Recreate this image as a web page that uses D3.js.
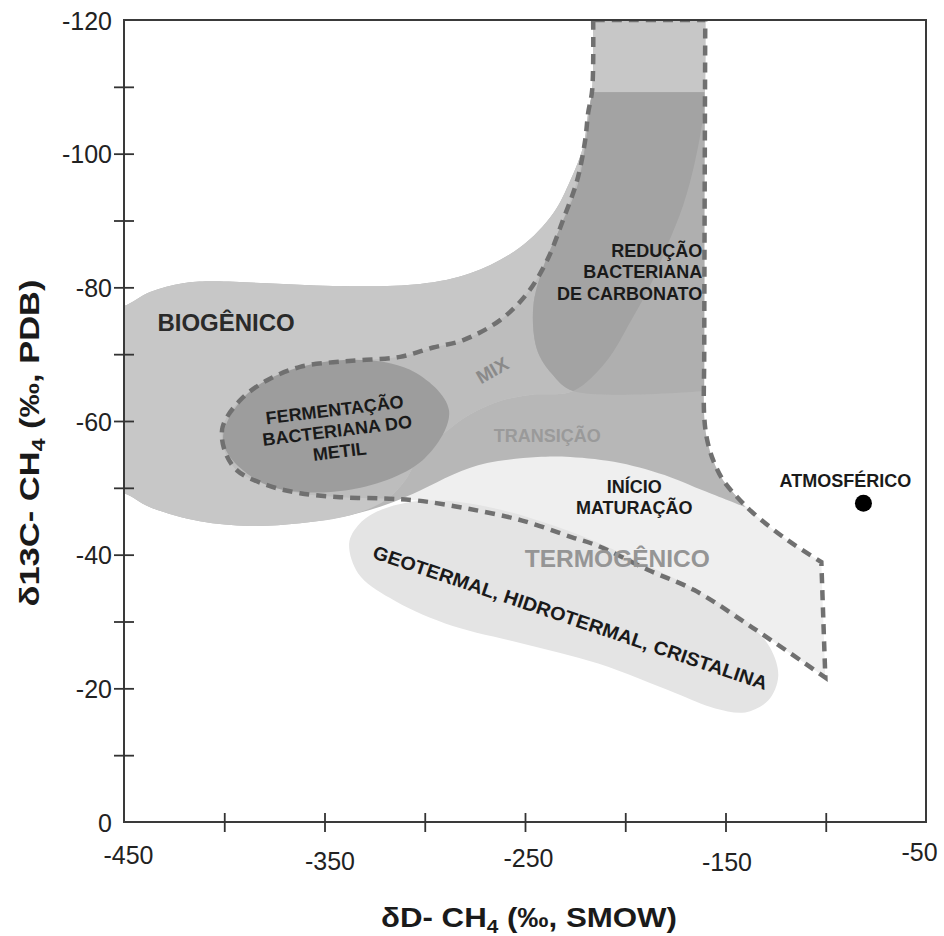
<!DOCTYPE html>
<html><head><meta charset="utf-8">
<script src="https://cdn.jsdelivr.net/npm/d3@7"></script>
<style>body{margin:0;background:#fff}</style>
</head><body><svg id="c" width="944" height="936"></svg>
<script>
// ---------------- DATA (δD, δ13C in ‰) ----------------
const xTickValues = [-450,-400,-350,-300,-250,-200,-150,-100,-50];
const xLabelValues = [-450,-350,-250,-150,-50];
const yTickValues = [0,-10,-20,-30,-40,-50,-60,-70,-80,-90,-100,-110,-120];
const yLabelValues = [0,-20,-40,-60,-80,-100,-120];

// Biogenic field: upper edge (left axis -> column)
const bioTop = [[-450,-77.2],[-437.0,-79.3],[-420.6,-80.6],[-407.1,-80.9],[-378.6,-80.6],[-345.7,-80.2],[-302.3,-80.5],[-277.3,-82.1],[-252.4,-86.0],[-235.9,-91.1],[-227.4,-96.0],[-221.0,-101.0],[-218.5,-106.1],[-216.5,-109.5],[-216.0,-122]];
// Biogenic field: right/lower edge through the carbonate-reduction column
const bioRight = [[-160.1,-122],[-160.6,-107.3],[-165.1,-99.0],[-171.1,-92.3],[-179.0,-86.3],[-187.5,-80.3],[-197.5,-74.8],[-209.0,-69.1],[-226.0,-64.5],[-247.4,-63.9],[-262.4,-63.0],[-277.3,-61.0],[-289.8,-58.3],[-302.3,-54.9],[-309.8,-51.1],[-319.8,-48.1]];
// Biogenic field: lower edge (right -> left axis)
const bioBottom = [[-337.2,-45.9],[-362.2,-44.7],[-387.1,-44.3],[-412.1,-45.0],[-437.0,-47.1],[-450,-49.2]];
// Right edge of the grey (transition) area, along the dashed boundary
const transRight = [[-160.1,-122],[-160.6,-70.6],[-160.6,-60.6],[-159.1,-57.1],[-156.1,-54.1],[-151.1,-51.1],[-144.1,-48.6],[-140.1,-47.1]];
// Upper edge of the "início maturação" field (right -> left)
const inicioTop = [[-161.1,-49.6],[-177.5,-51.6],[-202.5,-53.7],[-227.4,-54.6],[-243.9,-54.6],[-268.9,-53.7],[-285.8,-52.0],[-302.3,-49.6],[-317.3,-47.7]];
// Redução bacteriana de carbonato
const reducao = [[-216.5,-109.2],[-160.6,-109.2],[-160.6,-64.5],[-226.0,-64.5],[-236.4,-67.0],[-243.9,-70.6],[-245.9,-77.0],[-240.9,-83.0],[-232.4,-89.0],[-224.0,-95.0],[-219.5,-102.0],[-217.5,-107.3]];
// Fermentação bacteriana do metil
const fermentacao = [[-287.9,-61.6],[-301.2,-54.1],[-339.7,-49.6],[-380.8,-50.7],[-400.5,-56.9],[-387.2,-64.4],[-348.7,-68.9],[-307.6,-67.7]];
// Geotermal, hidrotermal, cristalina
const geotermal = [[-337.7,-41.7],[-333.2,-44.4],[-324.8,-46.3],[-308.8,-47.8],[-292.3,-48.1],[-272.4,-47.4],[-247.4,-45.5],[-222.5,-42.9],[-192.5,-38.9],[-162.6,-34.4],[-140.1,-30.2],[-127.6,-26.0],[-123.7,-21.8],[-128.6,-18.2],[-140.1,-16.4],[-155.1,-17.0],[-175.1,-19.3],[-213.5,-23.7],[-251.4,-26.7],[-289.8,-29.7],[-317.3,-33.5],[-333.2,-37.2]];
// Dashed (termogênico) boundary
const dashedBoundary = [[-216.0,-120],[-216.5,-109.5],[-218.5,-106.1],[-220.0,-102.0],[-224.0,-96.0],[-231.0,-90.1],[-238.9,-84.1],[-248.9,-79.1],[-262.4,-75.1],[-280.8,-72.1],[-295.8,-71.0],[-312.3,-69.6],[-332.2,-69.1],[-345.7,-68.8],[-362.2,-68.1],[-378.6,-66.1],[-392.1,-63.1],[-400.8,-59.1],[-399.8,-55.6],[-393.6,-52.6],[-378.6,-50.4],[-362.2,-49.2],[-342.2,-48.6],[-320.8,-48.4],[-303.8,-48.1],[-278.8,-46.9],[-251.4,-45.1],[-226.5,-42.6],[-213.5,-41.3],[-188.5,-37.7],[-165.6,-34.7],[-136.6,-29.1],[-110.2,-23.7],[-100.2,-21.6],[-101.2,-30.2],[-102.2,-38.9],[-119.2,-42.2],[-136.1,-46.2],[-144.1,-48.6],[-151.1,-51.1],[-156.1,-54.1],[-159.1,-57.1],[-160.6,-60.6],[-160.6,-70.6],[-160.1,-120]];
const dashedCorners = [0,33,35,44];
const atmosferico = [[-81.2,-47.7]];

const regionLabels = [
  ["BIOGÊNICO"],
  ["FERMENTAÇÃO","BACTERIANA DO","METIL"],
  ["MIX"],
  ["TRANSIÇÃO"],
  ["REDUÇÃO","BACTERIANA","DE CARBONATO"],
  ["INÍCIO","MATURAÇÃO"],
  ["TERMOGÊNICO"],
  ["GEOTERMAL, HIDROTERMAL, CRISTALINA"],
  ["ATMOSFÉRICO"]
];
const labelAnchors = [[-399.1,-74.8],[-343.7,-58.6],[-266.4,-67.6],[-238.9,-57.9],[-161.6,-82.3],[-195.5,-48.6],[-204.0,-39.5],[-227.4,-30.6],[-90.2,-51.1]];

// ---------------- DRAWING ----------------
const FONT = '"Liberation Sans", Arial, Helvetica, sans-serif';
const svg = d3.select("#c");
svg.append("rect").attr("width",944).attr("height",936).attr("fill","#fff");
const x = d3.scaleLinear().domain([-450,-50]).range([124,926]);
const y = d3.scaleLinear().domain([0,-120]).range([822,20]);
const closed = d3.line().x(d=>x(d[0])).y(d=>y(d[1])).curve(d3.curveCatmullRomClosed.alpha(0.5));
const dup = p => [p,p];
const sharp = arr => arr.flatMap(p=>[p]);

const defs = svg.append("defs");
defs.append("clipPath").attr("id","plot").append("rect")
  .attr("x",x(-450)).attr("y",y(-120)).attr("width",x(-50)-x(-450)).attr("height",y(0)-y(-120));

// composite outlines
const leftOut = [[-462,-49.5],[-462,-49.5],[-462,-76.5],[-462,-76.5]];
const topPart = bioTop.slice(0,-1).concat(dup(bioTop[bioTop.length-1]));
const biogenicShape = leftOut.slice(2).concat(topPart, dup(bioRight[0]), bioRight.slice(1), bioBottom, leftOut.slice(0,2));
const greyShape = leftOut.slice(2).concat(topPart, dup(transRight[0]), transRight.slice(1,-1), dup(transRight[transRight.length-1]), inicioTop, bioBottom, leftOut.slice(0,2));
const reducaoShape = dup(reducao[0]).concat(dup(reducao[1]), dup(reducao[2]), reducao.slice(3));
const dashedShape = dashedBoundary.flatMap((p,i)=> dashedCorners.includes(i)?[p,p]:[p]);

defs.append("clipPath").attr("id","thermo").append("path").attr("d",closed(dashedShape));
defs.append("clipPath").attr("id","bio").append("path").attr("d",closed(biogenicShape));
defs.append("clipPath").attr("id","below").append("rect")
  .attr("x",0).attr("y",y(-109.2)).attr("width",944).attr("height",936);

const g = svg.append("g").attr("clip-path","url(#plot)");
g.append("path").attr("d",closed(dashedShape)).attr("fill","#efefef");
g.append("path").attr("d",closed(geotermal)).attr("fill","#e4e4e4");
g.append("path").attr("d",closed(greyShape)).attr("fill","#b7b7b7");
g.append("path").attr("d",closed(biogenicShape)).attr("fill","#c7c7c7");
g.append("g").attr("clip-path","url(#thermo)").append("g").attr("clip-path","url(#below)")
  .append("path").attr("d",closed(biogenicShape)).attr("fill","#bdbdbd");
g.append("path").attr("d",closed(reducaoShape)).attr("fill","#afafaf");
g.append("g").attr("clip-path","url(#bio)").append("path").attr("d",closed(reducaoShape)).attr("fill","#a3a3a3");
g.append("path").attr("d",closed(fermentacao)).attr("fill","#9d9d9d");
g.append("path").attr("d",closed(dashedShape)).attr("fill","none")
  .attr("stroke","#707070").attr("stroke-width",4.5).attr("stroke-dasharray","10,7");

// atmospheric point
svg.selectAll("circle.pt").data(atmosferico).join("circle").attr("class","pt")
  .attr("cx",d=>x(d[0])).attr("cy",d=>y(d[1])).attr("r",8.5).attr("fill","#000");

// labels
const labelStyle = [
  {size:24, color:"#2a2a2a", rot:0, anchor:"middle", gap:0},
  {size:18, color:"#1a1a1a", rot:-7, anchor:"middle", gap:21},
  {size:19, color:"#8a8a8a", rot:-30, anchor:"middle", gap:0},
  {size:18, color:"#9a9a9a", rot:0, anchor:"middle", gap:0},
  {size:18, color:"#1a1a1a", rot:0, anchor:"end", gap:21.5},
  {size:18, color:"#1a1a1a", rot:0, anchor:"middle", gap:20.5},
  {size:24.5, color:"#959595", rot:0, anchor:"middle", gap:0},
  {size:19, color:"#1a1a1a", rot:18.6, anchor:"middle", gap:0, len:415},
  {size:18, color:"#1a1a1a", rot:0, anchor:"middle", gap:0}
];
regionLabels.forEach((lines,i)=>{
  const s = labelStyle[i];
  const [px,py] = [x(labelAnchors[i][0]), y(labelAnchors[i][1])];
  const gg = svg.append("g").attr("transform",`translate(${px},${py}) rotate(${s.rot})`);
  lines.forEach((t,j)=>{
    const tx = gg.append("text").attr("x",0).attr("y",(j-(lines.length-1)/2)*s.gap)
      .attr("dy","0.36em").attr("text-anchor",s.anchor)
      .attr("font-family",FONT).attr("font-weight","bold").attr("font-size",s.size)
      .attr("fill",s.color).text(t);
    if (s.len) tx.attr("textLength",s.len).attr("lengthAdjust","spacingAndGlyphs");
  });
});

// frame
svg.append("rect").attr("x",x(-450)).attr("y",y(-120)).attr("width",x(-50)-x(-450)).attr("height",y(0)-y(-120))
  .attr("fill","none").attr("stroke","#3a3a3a").attr("stroke-width",2);

// x axis
const xLabelShift = {"-450":[4,-3],"-350":[5,3],"-250":[3,0],"-150":[1,4],"-50":[-7,-6]};
const gx = svg.append("g").attr("transform",`translate(0,${y(0)})`)
  .call(d3.axisBottom(x).tickValues(xTickValues).tickSize(0).tickSizeOuter(0)
    .tickFormat(d=> xLabelValues.includes(d) ? String(d) : ""));
gx.select(".domain").remove();
gx.selectAll(".tick line").attr("y1",-9).attr("y2",10).attr("stroke","#333").attr("stroke-width",1.8)
  .attr("display",d=>(d===-450||d===-50)?"none":null);
gx.selectAll(".tick text").attr("font-family",FONT).attr("font-size",25).attr("fill","#222")
  .attr("x",d=> (xLabelShift[d]||[0,0])[0]).attr("y",d=>36+(xLabelShift[d]||[0,0])[1]).attr("dy","0.36em");

// y axis
const gy = svg.append("g").attr("transform",`translate(${x(-450)},0)`)
  .call(d3.axisLeft(y).tickValues(yTickValues).tickSize(0).tickSizeOuter(0)
    .tickFormat(d=> yLabelValues.includes(d) ? String(d) : ""));
gy.select(".domain").remove();
gy.selectAll(".tick line").attr("x1",-10).attr("x2",10).attr("stroke","#333").attr("stroke-width",1.8)
  .attr("display",d=>(d===0||d===-120)?"none":null);
gy.selectAll(".tick text").attr("font-family",FONT).attr("font-size",25).attr("fill","#222")
  .attr("x",-12).attr("dy","0.36em");

// axis titles
const xt = svg.append("text").attr("x",529).attr("y",927).attr("text-anchor","middle")
  .attr("font-family",FONT).attr("font-weight","bold").attr("font-size",27).attr("fill","#1a1a1a")
  .attr("textLength",296).attr("lengthAdjust","spacingAndGlyphs");
xt.append("tspan").text("δD- CH");
xt.append("tspan").attr("font-size",18).attr("dy",6).text("4");
xt.append("tspan").attr("dy",-6).text(" (‰, SMOW)");

const yt = svg.append("text").attr("transform","translate(39,443) rotate(-90)").attr("text-anchor","middle")
  .attr("font-family",FONT).attr("font-weight","bold").attr("font-size",27).attr("fill","#1a1a1a")
  .attr("textLength",327).attr("lengthAdjust","spacingAndGlyphs");
yt.append("tspan").text("δ13C- CH");
yt.append("tspan").attr("font-size",18).attr("dy",6).text("4");
yt.append("tspan").attr("dy",-6).text(" (‰, PDB)");
</script></body></html>
